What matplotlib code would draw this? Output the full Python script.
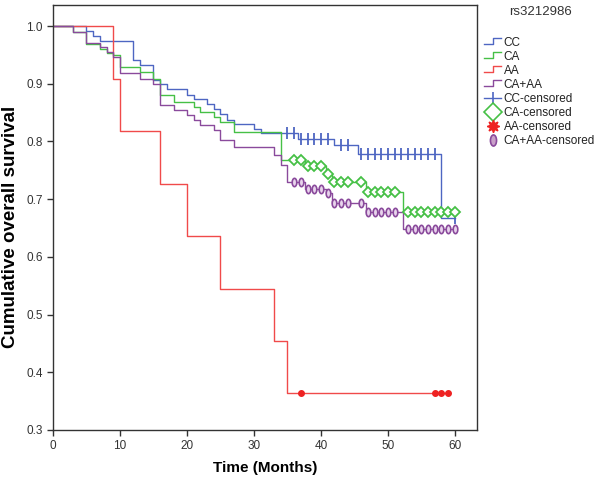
import numpy as np
import matplotlib
matplotlib.use("Agg")
import matplotlib.pyplot as plt
from matplotlib.lines import Line2D
from matplotlib.legend_handler import HandlerBase
from matplotlib.path import Path
from matplotlib.transforms import Affine2D

plt.rcParams['font.family'] = ['Liberation Sans', 'DejaVu Sans']

# ---- data ----
cc_t = [0, 5, 6, 7, 12, 13, 15, 16, 17, 20, 21, 23, 24, 25, 26, 27, 30, 31, 36.6, 42, 45.6, 58, 60]
cc_s = [1.0, .991, .983, .974, .941, .932, .907, .899, .890, .881, .873, .864, .856, .847, .838, .830,
        .821, .814, .805, .793, .778, .667, .667]

ca_t = [0, 3, 5, 7, 8, 9, 10, 13, 15, 16, 18, 21, 22, 24, 25, 27, 34, 37.6, 40.8, 41.6, 46.8, 52.3, 60]
ca_s = [1.0, .990, .969, .961, .953, .950, .929, .920, .909, .880, .869, .860, .851, .843, .834, .817,
        .767, .757, .744, .730, .712, .678, .678]

aa_t = [0, 9, 10, 16, 20, 25, 33, 35, 59]
aa_s = [1.0, .909, .818, .727, .636, .545, .455, .364, .364]

caaa_t = [0, 3, 5, 7, 8, 9, 10, 13, 15, 16, 18, 20, 21, 22, 24, 25, 27, 33, 34, 35, 37.6, 40.8, 41.6,
          46.8, 52.3, 60]
caaa_s = [1.0, .990, .971, .963, .955, .947, .919, .909, .900, .863, .854, .845, .837, .828, .819, .802,
          .790, .776, .759, .729, .718, .710, .693, .677, .648, .648]

cc_cens = [35, 36, 37, 38, 39, 40, 41, 43, 44, 46, 47, 48, 49, 50, 51, 52, 53, 54, 55, 56, 57, 60]
ca_cens = [36, 37, 38, 39, 40, 41, 42, 43, 44, 46, 47, 48, 49, 50, 51, 53, 54, 55, 56, 57, 58, 59, 60]
aa_cens = [37, 57, 58, 59]
caaa_cens = [36, 37, 38, 39, 40, 41, 42, 43, 44, 46, 47, 48, 49, 50, 51, 53, 54, 55, 56, 57, 58, 59, 60]

groups = ['CC', 'CA', 'AA', 'CA+AA']
colors = ['#4e66c2', '#46c046', '#f04a4a', '#8a4a9c']
legend_title = 'rs3212986'
x_ticks = [0, 10, 20, 30, 40, 50, 60]
y_ticks = [0.3, 0.4, 0.5, 0.6, 0.7, 0.8, 0.9, 1.0]


def surv_at(t, s, times):
    t = np.asarray(t, float)
    s = np.asarray(s, float)
    idx = np.searchsorted(t, np.asarray(times, float), side='right') - 1
    return s[idx]


fig = plt.figure(figsize=(6.0, 4.79), dpi=100)
ax = fig.add_axes([53 / 600, 1 - 430 / 479, 424 / 600, 425 / 479])

curves = [(cc_t, cc_s, cc_cens), (ca_t, ca_s, ca_cens), (aa_t, aa_s, aa_cens), (caaa_t, caaa_s, caaa_cens)]
for (t, s, c), col in zip(curves, colors):
    ax.step(t, s, where='post', color=col, lw=1.0)

# censor marks
ellipse = Path.unit_circle().transformed(Affine2D().scale(0.55, 1.0))
ax.plot(cc_cens, surv_at(cc_t, cc_s, cc_cens), ls='none', marker='|', ms=8, mew=1.3, color=colors[0])
ax.plot(ca_cens, surv_at(ca_t, ca_s, ca_cens), ls='none', marker='D', ms=5.3, mew=1.3,
        mfc='white', mec=colors[1])
ax.plot(aa_cens, surv_at(aa_t, aa_s, aa_cens), ls='none', marker='o', ms=4, color='#ee2222')
ax.plot(caaa_cens, surv_at(caaa_t, caaa_s, caaa_cens), ls='none', marker=ellipse, ms=6, mew=1.2,
        mfc='#e8d4ec', mec=colors[3])

ax.set_xlim(0, 63.3)
ax.set_ylim(0.3, 1.0364)
ax.set_xticks(x_ticks)
ax.set_yticks(y_ticks)
ax.set_yticklabels([f'{v:.1f}' for v in y_ticks])
ax.tick_params(direction='out', length=4, width=1, labelsize=8.5, colors='#333333', labelcolor='#333333')
for sp in ax.spines.values():
    sp.set_color('#333333')
    sp.set_linewidth(1.0)
ax.set_xlabel('Time (Months)', fontsize=11, fontweight='bold', labelpad=6)
ax.set_ylabel('Cumulative overall survival', fontsize=13.5, fontweight='bold')
ax.yaxis.set_label_coords((19 - 53) / 424, (430 - 227) / 425)


class StepHandler(HandlerBase):
    def create_artists(self, legend, orig_handle, xdescent, ydescent, width, height, fontsize, trans):
        x0 = -xdescent
        xs = [x0, x0 + 0.5 * width, x0 + 0.5 * width, x0 + width]
        ys = [-ydescent + 0.2 * height, -ydescent + 0.2 * height,
              -ydescent + 0.9 * height, -ydescent + 0.9 * height]
        ln = Line2D(xs, ys, color=orig_handle.get_color(), lw=1.0)
        ln.set_transform(trans)
        return [ln]


step_handles = [Line2D([], [], color=c) for c in colors]
cens_handles = [
    Line2D([], [], color=colors[0], lw=1.0, marker='|', ms=9, mew=1.2),
    Line2D([], [], color=colors[1], ls='none', marker='D', ms=9, mew=1.2, mfc='white'),
    Line2D([], [], color='#ee2222', ls='none', marker=(8, 1, 0), ms=9),
    Line2D([], [], color=colors[3], ls='none', marker=ellipse, ms=8, mew=1.2, mfc='#c9a0c9'),
]
labels = groups + [g + '-censored' for g in groups]
handler_map = {h: StepHandler() for h in step_handles}
leg = fig.legend(step_handles + cens_handles, labels, handler_map=handler_map,
                 loc='upper left', bbox_to_anchor=(479 / 600, 1 - 32 / 479), frameon=False,
                 fontsize=8.5, handlelength=1.5, handletextpad=0.2, labelspacing=0.17,
                 borderaxespad=0)
for txt in leg.get_texts():
    txt.set_color('#222222')
fig.text(540 / 600, 1 - 12 / 479, legend_title, ha='center', va='center', fontsize=9.5, color='#333333')

fig.savefig('out.png', dpi=100)
